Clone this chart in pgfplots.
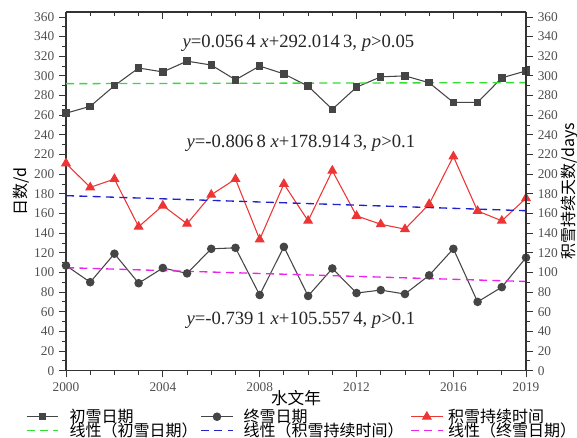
\documentclass[border=0pt]{standalone}
\usepackage{fontspec}
\setmainfont{Liberation Serif}
\newfontfamily\cjk{Noto Sans CJK SC}
\usepackage{pgfplots}
\pgfplotsset{compat=1.18}
\definecolor{dg}{HTML}{454545}
\definecolor{rd}{HTML}{EE3535}
\definecolor{gn}{HTML}{33DD33}
\definecolor{bl}{HTML}{2222CC}
\definecolor{mg}{HTML}{EE22EE}
\definecolor{tk}{HTML}{505050}
\definecolor{ax}{HTML}{333333}
\begin{document}
\fontsize{11}{13}\selectfont
\begin{tikzpicture}
\pgfplotsset{
  common/.style={
    scale only axis, width=345pt, height=269pt,
    xmin=2000, xmax=2019, ymin=0, ymax=365,
    xtick={2000,2004,2008,2012,2016,2019},
    minor xtick={2001,2002,...,2018},
    ytick={0,20,...,360}, minor ytick={10,30,...,350},
    /pgf/number format/assume math mode=true,
    /pgf/number format/1000 sep={},
    tick label style={font=\rmfamily\fontsize{10}{12}\selectfont, text=tk},
    axis line style={ax, line width=0.8pt},
    every tick/.style={ax, line width=0.6pt},
    major tick length=5pt, minor tick length=3pt,
  }
}
\begin{axis}[common, name=main,
  axis x line*=bottom, axis y line*=left,
  tick align=outside,
  xlabel={\cjk 水文年}, ylabel={\cjk 日数/d},
  xlabel style={inner sep=0pt, yshift=4.5pt, font=\fontsize{12.5}{13}\selectfont},
  ylabel style={inner sep=0pt, yshift=0pt, font=\fontsize{12}{13}\selectfont},
  legend columns=3,
  legend cell align=left,
  legend style={at={(0.5,-0.104)}, anchor=north, xshift=4pt, draw=none, fill=none,
    inner sep=0pt,
    font=\cjk\fontsize{12}{12}\selectfont, row sep=-2.3pt,
    nodes={inner sep=0.5pt},
    /tikz/column 1/.style={column sep=7.5pt},
    /tikz/column 2/.style={column sep=1.5pt},
    /tikz/column 3/.style={column sep=7pt},
    /tikz/column 4/.style={column sep=4.5pt},
    /tikz/column 5/.style={column sep=3pt}},
  legend image code/.code={\draw[mark repeat=2,mark phase=2] plot coordinates {(0cm,0cm)(0.42cm,0cm)(0.84cm,0cm)};},
]
% 初雪日期
\addplot[dg, line width=0.8pt, mark=square*, mark size=2.4pt, mark options={solid, fill=dg}] coordinates {
(2000,262)(2001,269)(2002,290)(2003,308)(2004,304)(2005,315)(2006,311)(2007,296)(2008,310)(2009,302)
(2010,289.5)(2011,266)(2012,288.5)(2013,299)(2014,300)(2015,293)(2016,273)(2017,273)(2018,298)(2019,305)};
\addlegendentry{初雪日期}
% 终雪日期
\addplot[dg, line width=0.8pt, mark=*, mark size=2.8pt, mark options={solid, fill=dg}] coordinates {
(2000,107)(2001,90)(2002,119)(2003,89)(2004,104.5)(2005,99)(2006,124)(2007,125)(2008,77)(2009,126)
(2010,76)(2011,104)(2012,79)(2013,82)(2014,78)(2015,97)(2016,124)(2017,70)(2018,85)(2019,115)};
\addlegendentry{终雪日期}
% 积雪持续时间
\addplot[rd, line width=0.8pt, mark=triangle*, mark size=3.6pt, mark options={solid, fill=rd}] coordinates {
(2000,211)(2001,186.5)(2002,195)(2003,146.5)(2004,168)(2005,149.5)(2006,179)(2007,195)(2008,133.5)(2009,190)
(2010,152.5)(2011,203.5)(2012,157.5)(2013,149)(2014,144)(2015,169.5)(2016,218)(2017,162.5)(2018,152.5)(2019,175.5)};
\addlegendentry{积雪持续时间}
% trends
\addplot[gn, line width=1pt, dash pattern=on 6pt off 4pt] coordinates {(2000,292.07)(2019,293.14)};
\addlegendentry{线性（初雪日期）}
\addplot[bl, line width=1pt, dash pattern=on 6pt off 4pt] coordinates {(2000,178.11)(2019,162.78)};
\addlegendentry{线性（积雪持续时间）}
\addplot[mg, line width=1pt, dash pattern=on 6pt off 4pt] coordinates {(2000,104.82)(2019,90.77)};
\addlegendentry{线性（终雪日期）}
\node[font=\fontsize{14}{16}\selectfont, text=black!85] at (axis cs:2009.6,333.5) {\textit{y}=0.056\,4 \textit{x}+292.014\,3, \textit{p}>0.05};
\node[font=\fontsize{14}{16}\selectfont, text=black!85] at (axis cs:2009.7,231.8) {\textit{y}=-0.806\,8 \textit{x}+178.914\,3, \textit{p}>0.1};
\node[font=\fontsize{14}{16}\selectfont, text=black!85] at (axis cs:2009.7,51.6) {\textit{y}=-0.739\,1 \textit{x}+105.557\,4, \textit{p}>0.1};
\end{axis}
\begin{axis}[common,
  axis x line*=top, axis y line*=right,
  xtick align=inside, ytick align=outside,
  xticklabels={},
  ylabel={\cjk 积雪持续天数/days},
  ylabel style={inner sep=0pt, yshift=1.5pt, font=\fontsize{12}{13}\selectfont},
]
\end{axis}
\pgfresetboundingbox
\path (main.south west) ++(-49.5pt,-50.25pt) coordinate (bbA);
\path (main.north east) ++(38.25pt,9pt) coordinate (bbB);
\path[use as bounding box] (bbA) rectangle (bbB);
\end{tikzpicture}
\end{document}
